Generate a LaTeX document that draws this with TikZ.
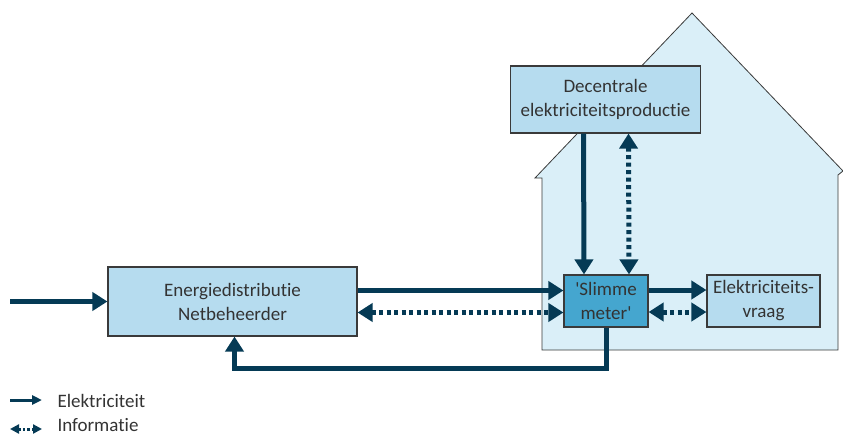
\documentclass[tikz,border=0pt]{standalone}
\usepackage{fontspec}
\setmainfont{Carlito}[Ligatures=NoCommon]
\usetikzlibrary{arrows.meta}
\definecolor{navy}{HTML}{053A55}
\definecolor{boxblue}{HTML}{B6DCEF}
\definecolor{meterblue}{HTML}{45A6CF}
\definecolor{houseblue}{HTML}{DAEFF8}
\definecolor{edge}{HTML}{3A3A3A}
\tikzset{
  box/.style={draw=edge, line width=1.1pt, fill=boxblue, inner sep=0pt, align=center,
    text=black!80, font=\fontsize{19}{24}\selectfont},
  elec/.style={draw=navy, line width=5pt, -{Triangle[length=15pt,width=18pt]}},
  info/.style={draw=navy, line width=5pt, dash pattern=on 4pt off 3.5pt,
    {Triangle[length=15pt,width=18pt]}-{Triangle[length=15pt,width=18pt]}},
  legtext/.style={anchor=base west, text=black!80, font=\fontsize{19}{24}\selectfont},
}
\begin{document}
\begin{tikzpicture}[x=1pt,y=-1pt]
    \useasboundingbox (0,0) rectangle (843,436);
    % draw the house
    \filldraw[fill=houseblue, draw=edge, line width=0.8pt]
      (542,350) -- (542,178) -- (535,178) -- (692,13) -- (843,171)
      -- (838,175) -- (838,350) -- cycle;
    % the boxes
    \node[box, minimum width=249pt, minimum height=69pt] (energie) at (232.5,301.5)
      {Energiedistributie\\Netbeheerder};
    \node[box, minimum width=190pt, minimum height=67pt] (decentraal) at (605.5,99.5)
      {Decentrale\\elektriciteitsproductie};
    \node[box, fill=meterblue, minimum width=84pt, minimum height=52pt] (meter) at (606,301)
      {\textquotesingle Slimme\\meter\textquotesingle};
    \node[box, minimum width=113pt, minimum height=52pt] (vraag) at (763.5,301)
      {Elektriciteits-\\vraag};
    % the free ends and the bend of the return line
    \coordinate (invoer) at (10,301.5);
    \coordinate (bocht) at (606,368);
    % draw the arrows
    \draw[elec] (invoer) -- (energie.west);
    \draw[elec] ([yshift=11pt]energie.east) -- ([yshift=11pt]energie.east -| meter.west);
    \draw[info] ([yshift=-11pt]energie.east) -- ([yshift=-11pt]energie.east -| meter.west);
    \draw[elec] ([xshift=-22pt]decentraal.south) -- ([xshift=-22pt]meter.north);
    \draw[info] ([xshift=23pt]decentraal.south) -- ([xshift=23pt]meter.north);
    \draw[elec] ([yshift=11pt]meter.east) -- ([yshift=11pt]vraag.west);
    \draw[info] ([yshift=-11pt]meter.east) -- ([yshift=-11pt]vraag.west);
    \draw[elec] (meter.south) -- (bocht) -| ([xshift=2pt]energie.south);
    % the legend
    \coordinate (e1) at (10,400);
    \coordinate (e2) at (42,400);
    \coordinate (i1) at (10,429);
    \coordinate (i2) at (42,429);
    \draw[navy, line width=3pt, -{Triangle[length=10pt,width=9pt]}] (e1) -- (e2);
    \draw[navy, line width=3pt, dash pattern=on 2.5pt off 2pt,
      {Triangle[length=9pt,width=9pt]}-{Triangle[length=9pt,width=9pt]}] (i1) -- (i2);
    \node[legtext] (leg1) at (54,407) {Elektriciteit};
    \node[legtext] (leg2) at (54,431) {Informatie};
\end{tikzpicture}
\end{document}
